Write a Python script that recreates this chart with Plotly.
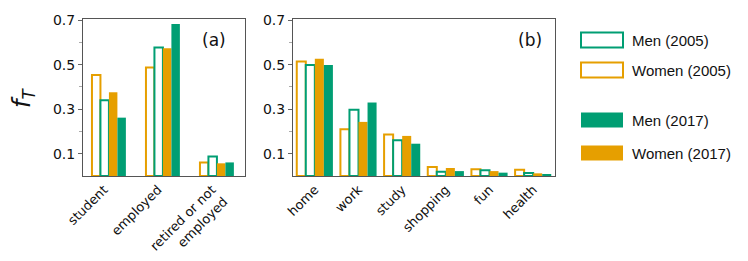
import plotly.graph_objects as go

W, H = 748, 261
OX, OY = 8, 8  # page body margin compensation

cats_a = ["student", "employed", "retired or not<br>employed"]
cats_b = ["home", "work", "study", "shopping", "fun", "health"]

series_names = ["Women (2005)", "Men (2005)", "Women (2017)", "Men (2017)"]
vals_a = {
    "Women (2005)": [0.454, 0.487, 0.061],
    "Men (2005)":   [0.340, 0.577, 0.088],
    "Women (2017)": [0.376, 0.574, 0.057],
    "Men (2017)":   [0.262, 0.683, 0.061],
}
vals_b = {
    "Women (2005)": [0.514, 0.210, 0.186, 0.040, 0.030, 0.028],
    "Men (2005)":   [0.499, 0.297, 0.160, 0.019, 0.026, 0.013],
    "Women (2017)": [0.526, 0.243, 0.180, 0.036, 0.022, 0.012],
    "Men (2017)":   [0.499, 0.330, 0.145, 0.022, 0.015, 0.009],
}
yticks_major = [0.1, 0.3, 0.5, 0.7]

GREEN = "#009E73"
ORANGE = "#E69F00"
styles = {
    "Women (2005)": dict(color="white", line=dict(color=ORANGE, width=2)),
    "Men (2005)":   dict(color="white", line=dict(color=GREEN, width=2)),
    "Women (2017)": dict(color=ORANGE, line=dict(width=0)),
    "Men (2017)":   dict(color=GREEN, line=dict(width=0)),
}

fig = go.Figure()
wa, wb = 0.157, 0.207
for i, name in enumerate(series_names):
    fig.add_trace(go.Bar(x=cats_a, y=vals_a[name], xaxis="x", yaxis="y",
                         width=wa, offset=(-2 + i) * wa, marker=styles[name],
                         showlegend=False, name=name))
    fig.add_trace(go.Bar(x=cats_b, y=vals_b[name], xaxis="x2", yaxis="y2",
                         width=wb, offset=(-2 + i) * wb, marker=styles[name],
                         showlegend=False, name=name))

def px(x):
    return (x - OX) / W

def py(y):
    return 1 - (y - OY) / H

tickfont = dict(family="DejaVu Sans", size=14, color="#111")
xfont = dict(family="DejaVu Sans", size=13, color="#111")
yax = dict(range=[0, 0.705], tickvals=yticks_major, ticktext=[f"{v:.1f}" for v in yticks_major],
           ticks="outside", ticklen=4, tickcolor="#666", tickfont=tickfont, automargin=False,
           showgrid=False, zeroline=False, showline=True, linecolor="#555", linewidth=1,
           mirror=True,
           minor=dict(tickvals=[0.2, 0.4, 0.6], ticks="outside", ticklen=3, tickcolor="#aaa"))
xax = dict(type="category", ticks="", tickangle=-45, tickfont=xfont, showgrid=False,
           automargin=False, zeroline=False, showline=True, linecolor="#555", linewidth=1,
           mirror=True)

fig.update_layout(
    width=W, height=H, margin=dict(l=0, r=0, t=0, b=0, autoexpand=False),
    paper_bgcolor="white", plot_bgcolor="white", barmode="overlay",
    xaxis=dict(xax, domain=[px(83), px(245)], range=[-0.48, 2.52], anchor="y",
               ticklabelshift=-5),
    yaxis=dict(yax, domain=[py(176), py(19)], anchor="x"),
    xaxis2=dict(xax, domain=[px(293), px(555)], range=[-0.5, 5.5], anchor="y2"),
    yaxis2=dict(yax, domain=[py(176), py(19)], anchor="x2"),
)

def note(text, x, y, size, family="DejaVu Sans", xanchor="center", angle=0):
    return dict(text=text, x=px(x), y=py(y), xref="paper", yref="paper", showarrow=False,
                xanchor=xanchor, yanchor="middle", textangle=angle,
                font=dict(family=family, size=size, color="#111"))

ann = [
    note("(a)", 214, 40, 17),
    note("(b)", 530, 40, 17),
    note("<i>f</i><sub><i>T</i></sub>", 23, 98, 24, angle=-90),
]

legend_items = [
    ("Men (2005)", 40, dict(fillcolor="white", line=dict(color=GREEN, width=2))),
    ("Women (2005)", 70, dict(fillcolor="white", line=dict(color=ORANGE, width=2))),
    ("Men (2017)", 120, dict(fillcolor=GREEN, line=dict(width=0))),
    ("Women (2017)", 153, dict(fillcolor=ORANGE, line=dict(width=0))),
]
shapes = []
for label, yc, st in legend_items:
    shapes.append(dict(type="rect", xref="paper", yref="paper",
                       x0=px(581), x1=px(623), y0=py(yc + 7.5), y1=py(yc - 7.5), **st))
    ann.append(note(label, 630, yc, 15, family="Liberation Sans", xanchor="left"))

fig.update_layout(annotations=ann, shapes=shapes)
fig.write_html("out.html")
